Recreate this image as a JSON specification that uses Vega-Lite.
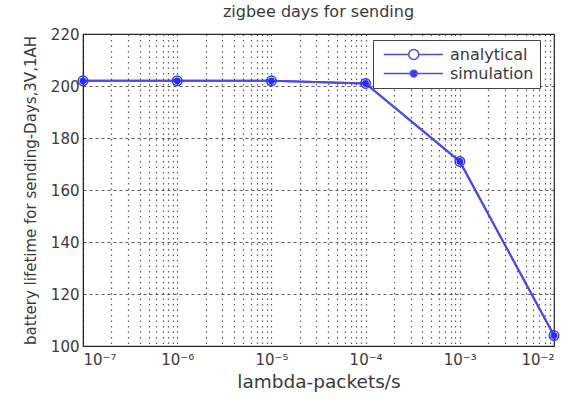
{
  "$schema": "https://vega.github.io/schema/vega-lite/v6.json",
  "autosize": "none",
  "width": 471,
  "height": 312,
  "padding": {"left": 83, "top": 34, "right": 17, "bottom": 54},
  "background": "white",
  "title": {"text": "zigbee days for sending", "fontSize": 16, "font": "DejaVu Sans", "fontWeight": "normal", "color": "#3a3a3a", "offset": 7},
  "config": {
    "font": "DejaVu Sans",
    "view": {"stroke": "#222", "strokeWidth": 1.2},
    "axis": {"labelColor": "#3a3a3a", "titleColor": "#3a3a3a", "titleFontWeight": "normal", "domainColor": "#222", "tickColor": "#222", "gridColor": "#333", "labelFont": "DejaVu Sans", "titleFont": "DejaVu Sans"},
    "legend": {"orient": "none", "legendX": 290, "legendY": 6, "strokeColor": "#444", "fillColor": "white", "padding": 6, "labelFontSize": 16, "labelColor": "#3a3a3a", "labelFont": "DejaVu Sans", "symbolOpacity": 1, "symbolSize": 225, "symbolStrokeWidth": 1.5, "labelOffset": 54, "rowPadding": 2}
  },
  "data": {"values": [
    {"lambda": 1e-7, "days": 202, "series": "analytical"},
    {"lambda": 1e-6, "days": 202, "series": "analytical"},
    {"lambda": 1e-5, "days": 202, "series": "analytical"},
    {"lambda": 1e-4, "days": 201, "series": "analytical"},
    {"lambda": 1e-3, "days": 171, "series": "analytical"},
    {"lambda": 1e-2, "days": 104, "series": "analytical"},
    {"lambda": 1e-7, "days": 202, "series": "simulation"},
    {"lambda": 1e-6, "days": 202, "series": "simulation"},
    {"lambda": 1e-5, "days": 202, "series": "simulation"},
    {"lambda": 1e-4, "days": 201, "series": "simulation"},
    {"lambda": 1e-3, "days": 171, "series": "simulation"},
    {"lambda": 1e-2, "days": 104, "series": "simulation"}
  ]},
  "encoding": {
    "x": {"field": "lambda", "type": "quantitative",
      "scale": {"type": "log", "domain": [1e-7, 1e-2], "nice": false},
      "axis": {"title": "lambda-packets/s", "titleFontSize": 18.5, "titlePadding": 5, "labelFontSize": 15, "labelPadding": 6, "labelOverlap": false, "ticks": false,
        "values": [1e-7,2e-7,3e-7,4e-7,5e-7,6e-7,7e-7,8e-7,9e-7,1e-6,2e-6,3e-6,4e-6,5e-6,6e-6,7e-6,8e-6,9e-6,1e-5,2e-5,3e-5,4e-5,5e-5,6e-5,7e-5,8e-5,9e-5,1e-4,2e-4,3e-4,4e-4,5e-4,6e-4,7e-4,8e-4,9e-4,1e-3,2e-3,3e-3,4e-3,5e-3,6e-3,7e-3,8e-3,9e-3,1e-2],
        "labelExpr": "abs(log(datum.value)/LN10 - round(log(datum.value)/LN10)) < 0.001 ? ['10⁻⁷','10⁻⁶','10⁻⁵','10⁻⁴','10⁻³','10⁻²'][round(log(datum.value)/LN10)+7] : ''",
        "gridDash": [1.5, 4], "gridOpacity": 0.8, "gridWidth": 1.2}},
    "y": {"field": "days", "type": "quantitative",
      "scale": {"domain": [100, 220], "nice": false},
      "axis": {"title": "battery lifetime for sending-Days,3V,1AH", "titleFontSize": 15, "titlePadding": 12, "labelFontSize": 15, "labelPadding": 4, "ticks": false,
        "values": [100, 120, 140, 160, 180, 200, 220], "gridDash": [3, 3], "gridOpacity": 0.8, "gridWidth": 1.2}}
  },
  "layer": [
    {"mark": {"type": "line", "color": "#4a4af0", "strokeWidth": 2},
      "encoding": {"detail": {"field": "series"}}},
    {"transform": [{"filter": "datum.series === 'analytical'"}],
      "mark": {"type": "point", "filled": false, "color": "#3535f5", "size": 90, "strokeWidth": 1.5, "opacity": 1}},
    {"transform": [{"filter": "datum.series === 'simulation'"}],
      "mark": {"type": "point", "filled": true, "color": "#2a2aff", "size": 45, "opacity": 1}},
    {"mark": {"type": "point", "filled": true, "stroke": "#4a4af0", "strokeWidth": 1.5, "opacity": 0},
      "encoding": {
        "shape": {"field": "series", "type": "nominal", "legend": {"title": null},
          "scale": {"domain": ["analytical", "simulation"], "range": ["M-0.5,0H2.83M4.17,0H7.4M2.83,0A0.67,0.67,0,1,1,4.17,0A0.67,0.67,0,1,1,2.83,0Z", "M-0.5,0H7.4M3.05,0A0.45,0.45,0,1,1,3.95,0A0.45,0.45,0,1,1,3.05,0Z"]}},
        "fill": {"field": "series", "type": "nominal", "legend": {"title": null},
          "scale": {"domain": ["analytical", "simulation"], "range": ["white", "#3535f5"]}}
      }}
  ]
}
